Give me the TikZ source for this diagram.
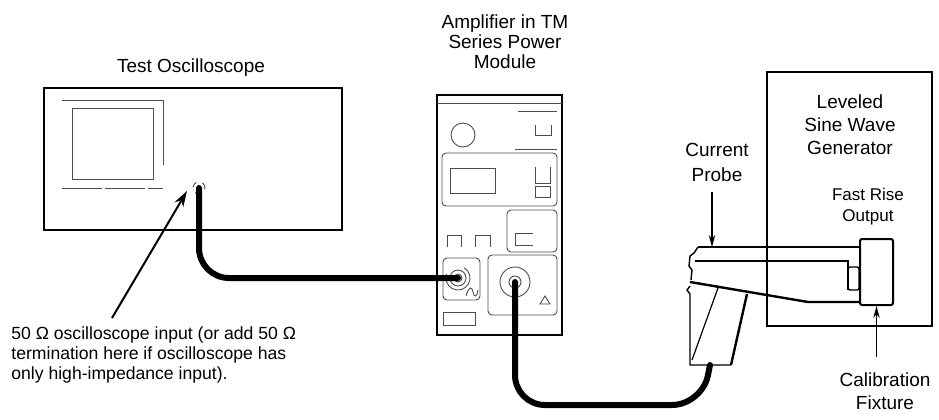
\documentclass[tikz,border=0pt]{standalone}
\usepackage{fontspec}
\setmainfont{Liberation Sans}
\usetikzlibrary{arrows.meta}
\tikzset{
  panel/.style={draw, line width=1.3pt, inner sep=0pt},
  detail/.style={draw=black!70, line width=0.45pt},
  cable/.style={line width=3pt, line cap=round},
  boxtitle/.style={font=\fontsize{9.5}{10}\selectfont, align=center, inner sep=0pt},
  pointer/.style={-{Stealth[length=6pt,width=3.2pt]}, line width=0.6pt},
}
\begin{document}
\begin{tikzpicture}[x=0.5pt, y=-0.5pt]
  \useasboundingbox (0,0) rectangle (939,419);

  % instruments
  \node[panel, minimum width=149pt, minimum height=71pt] (scope) at (193,159) {};
  \node[panel, minimum width=62.5pt, minimum height=120pt] (amp) at (499.5,215) {};
  \node[panel, minimum width=82.5pt, minimum height=127pt] (gen) at (849.5,199) {};
  \node[panel, line width=1pt, rounded corners=1pt, minimum width=16.5pt, minimum height=33pt] (fixture) at (876.5,272) {};

  % oscilloscope screen
  \draw[detail] (62,100) -- (163,100) -- (163,165);
  \draw[detail] (72,108) rectangle (153,179);
  \draw[detail, dash pattern=on 20pt off 1.5pt] (62,188) -- (163,188);
  \node[circle, detail, dashed, minimum size=6pt, inner sep=0pt] (scopein) at (199,188) {};

  % amplifier front panel
  \draw[detail] (437,103) -- (562,103);
  \draw[detail] (463,135) circle[radius=12];
  \draw[detail] (518,111) -- (557,111);
  \draw[detail] (535,125) -- (535,135) -- (551,135) -- (551,125);
  \draw[detail] (515,149) -- (557,149);
  \draw[detail, rounded corners=2pt] (442,153) rectangle (557,206);
  \draw[detail] (450,168) rectangle (495,193);
  \draw[detail] (535,167) -- (535,183) -- (550,183) -- (550,167);
  \draw[detail] (535,186) rectangle (550,197);
  \draw[detail, rounded corners=2pt] (507,210) rectangle (557,252);
  \draw[detail] (533,233) -- (515,233) -- (515,245) -- (533,245);
  \draw[detail] (447,247) -- (447,235) -- (461,235) -- (461,247);
  \draw[detail] (475,247) -- (475,235) -- (490,235) -- (490,247);
  \draw[detail, rounded corners=2pt] (443,258) rectangle (480,300);
  \draw[detail] (458,278) circle[radius=8];
  \draw[detail] (458,278) ++(-60:12) arc[start angle=-60, end angle=200, radius=12];
  \draw[detail] (466,296) .. controls (469,286) and (472,286) .. (473,292) .. controls (474,298) and (477,297) .. (478,290);
  \node[circle, detail, minimum size=4pt, inner sep=0pt] (ampin) at (458,278) {};
  \draw[detail, rounded corners=2pt] (488,255) rectangle (557,315);
  \draw[detail] (515,282) circle[radius=15];
  \node[circle, detail, minimum size=6pt, inner sep=0pt] (ampout) at (515,282) {};
  \draw[detail] (540,304) -- (550,304) -- (545,296) -- cycle;
  \draw[detail] (443,312) rectangle (475,325);

  % current probe
  \coordinate (hb) at (710,365);
  \draw[line width=0.7pt] (698,247) -- (fixture.west |- 0,247);
  \draw[line width=0.7pt] (698,247) -- (694,253) -- (690,256) -- (689,266) -- (692,270) -- (691,280);
  \draw[line width=0.7pt] (695,261) -- (848,261) -- (848,290);
  \draw[line width=0.7pt, rounded corners=1pt] (848,267) rectangle (859,290);
  \draw[line width=1.2pt] (690,282) -- (808,302) -- (fixture.west |- 0,302);
  \draw[line width=0.7pt] (690,286) -- (687,290) -- (690,294) -- (690,365) -- (731,365);
  \draw[line width=1.2pt] (747,294) -- (731,365);
  \draw[line width=0.6pt] (718,288) -- (692,360);

  % cables
  \draw[cable, rounded corners=15pt] (scopein.center) |- (ampin.center);
  \draw[cable, rounded corners=15pt] (ampout.center) |- (702,405) -- (hb);

  % labels
  \node[boxtitle] (scopetitle) at (191,68) {Test Oscilloscope};
  \node[boxtitle] (amptitle) at (505,42) {Amplifier in TM\\Series Power\\Module};
  \node[boxtitle, font=\fontsize{9.5}{11.5}\selectfont] (gentitle) at (850,125) {Leveled\\Sine Wave\\Generator};
  \node[boxtitle, font=\fontsize{8.5}{10.5}\selectfont] (risetitle) at (868,207) {Fast Rise\\Output};
  \node[boxtitle, font=\fontsize{9.5}{12.5}\selectfont] (probetitle) at (717,162) {Current\\Probe};
  \node[boxtitle, font=\fontsize{9.5}{11.5}\selectfont] (fixturetitle) at (885,391) {Calibration\\Fixture};
  \node[boxtitle, anchor=west, align=left, font=\fontsize{8.8}{10}\selectfont] (note) at (11,355)
    {50 Ω oscilloscope input (or add 50 Ω\\termination here if oscilloscope has\\only high-impedance input).};

  % pointers
  \coordinate (notetip) at (112,318);
  \draw[-{Stealth[length=8pt,width=5pt]}, line width=1pt] (notetip) -- (187,191);
  \draw[pointer] (712,192) -- (712,247);
  \coordinate (fixturetail) at (fixture.south |- 0,357);
  \draw[pointer] (fixturetail) -- (fixture.south);
\end{tikzpicture}
\end{document}
